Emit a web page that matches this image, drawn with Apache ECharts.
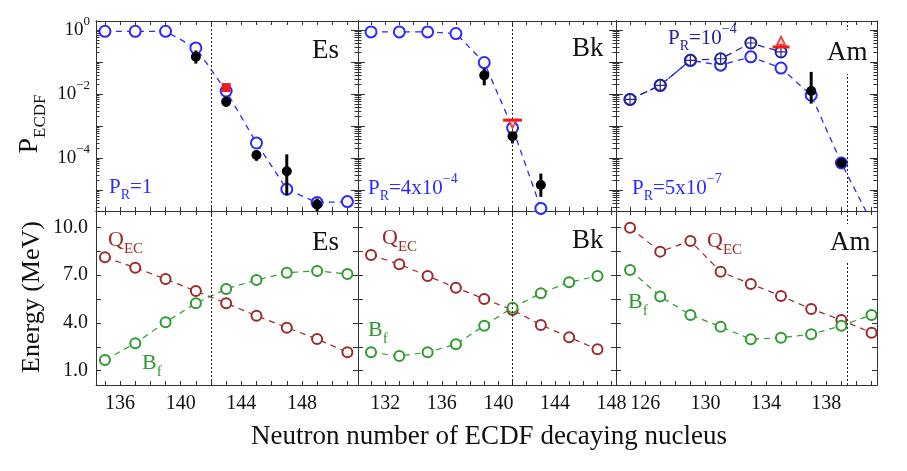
<!DOCTYPE html>
<html>
<head>
<meta charset="utf-8">
<title>ECDF probabilities</title>
<script src="https://cdn.jsdelivr.net/npm/echarts@6.0.0/dist/echarts.min.js"></script>
<style>
  html, body { margin: 0; padding: 0; background: #fff; }
  #chart { width: 907px; height: 471px; }
</style>
</head>
<body>
<div id="chart"></div>
<script>
// ---------- data ----------
// Es  (top: P_ECDF, bottom: energies in MeV)
var esN      = [135, 137, 139, 141, 143, 145, 147, 149, 151];
var esCalc   = [0.93, 0.93, 0.93, 0.28, 1.26e-2, 3.0e-4, 1.07e-5, 4.1e-6, 4.4e-6];
var esExpN   = [141, 143, 145, 147, 149];
var esExp    = [0.148, 5.8e-3, 1.26e-4, 3.9e-5, 3.6e-6];
var esExpLo  = [0.091, 4.0e-3, 8.3e-5, 6.9e-6, 2.1e-6];
var esExpHi  = [0.234, 8.3e-3, 1.58e-4, 1.32e-4, 5.5e-6];
var esOtherN = [143];
var esOther  = [1.62e-2];
var esQec    = [8.12, 7.46, 6.75, 6.0, 5.23, 4.45, 3.7, 2.99, 2.15];
var esBf     = [1.67, 2.72, 4.04, 5.23, 6.13, 6.69, 7.15, 7.26, 7.07];

// Bk
var bkN      = [131, 133, 135, 137, 139, 141, 143, 145, 147];
var bkCalcN  = [131, 133, 135, 137, 139, 141, 143];
var bkCalc   = [0.89, 0.89, 0.89, 0.79, 0.098, 8.9e-4, 2.7e-6];
var bkExpN   = [139, 141, 143];
var bkExp    = [0.039, 4.9e-4, 1.45e-5];
var bkExpLo  = [0.019, 2.9e-4, 6.2e-6];
var bkExpHi  = [0.063, 6.6e-4, 3.3e-5];
var bkLimN   = [141];
var bkLim    = [1.55e-3];
var bkLimArr = [1.2e-3];
var bkQec    = [8.26, 7.68, 6.94, 6.21, 5.5, 4.81, 3.87, 3.1, 2.34];
var bkBf     = [2.15, 1.92, 2.15, 2.66, 3.82, 4.95, 5.86, 6.55, 6.94];

// Am
var amN      = [125, 127, 129, 131, 133, 135, 137, 139, 141];
var amCalc   = [6.9e-3, 0.019, 0.115, 0.081, 0.148, 0.066, 9.3e-3, 7.1e-5, 1.0e-6];
var amCalc2N = [125, 127, 129, 131, 133, 135];
var amCalc2  = [6.9e-3, 0.019, 0.115, 0.129, 0.40, 0.21];
var amExpN   = [137, 139];
var amExp    = [0.0126, 7.1e-5];
var amExpLo  = [5.1e-3, 6.3e-5];
var amExpHi  = [0.05, 7.9e-5];
var amLimN   = [135];
var amLim    = [0.30];
var amLimArr = [0.47];
var amQec    = [9.97, 8.47, 9.14, 7.21, 6.44, 5.69, 4.87, 4.18, 3.38];
var amBf     = [7.32, 5.65, 4.5, 3.76, 2.97, 3.07, 3.28, 3.82, 4.5];

// vertical dotted lines (neutron number)
var cutN = [142, 141, 139.4];

// tick labels
var nLabels = [[136, 140, 144, 148], [132, 136, 140, 144, 148], [126, 130, 134, 138]];
var pLabels = [-4, -2, 0];          // powers of ten
var eLabels = [1.0, 4.0, 7.0, 10.0];
var eTicks  = [1.0, 2.5, 4.0, 5.5, 7.0, 8.5, 10.0];

// ---------- look & layout ----------
var FONT = '"Liberation Serif", "Times New Roman", serif';
var INK = '#333';
var BLUE = '#2b2bff', NAVY = '#24249a', RED = '#f01c1c', QCOL = '#9c2a2a', BCOL = '#2f9a2f';

var colL = [96, 358, 616], colR = [358, 616, 877];
var rowT = [21, 211], rowB = [211, 385];
var nRange = [[134.41, 151.70], [130.08, 148.31], [124.07, 141.36]];
var pRange = [-5.65, 0.29];   // log10 P
var eRange = [0.1, 11.02];

function intsIn(a, b) {
    var out = [];
    for (var v = Math.ceil(a); v <= b; v++) out.push(v);
    return out;
}
var pMajor = intsIn(pRange[0], pRange[1]);
var pMinor = [];
for (var dec = -6; dec <= 0; dec++) {
    for (var k = 2; k <= 9; k++) {
        var lv = dec + Math.log10(k);
        if (lv > pRange[0] && lv < pRange[1]) pMinor.push(lv);
    }
}

function logPts(ns, vs) { return ns.map(function (n, i) { return [n, Math.log10(vs[i])]; }); }
function linPts(ns, vs) { return ns.map(function (n, i) { return [n, vs[i]]; }); }
function errPts(ns, lo, hi) { return ns.map(function (n, i) { return [n, Math.log10(lo[i]), Math.log10(hi[i])]; }); }

var grid = [], xAxis = [], yAxis = [], series = [];
var axisLine = { show: true, onZero: false, lineStyle: { color: INK, width: 1 } };

function addX(g, c, pos, withLabels) {
    xAxis.push({
        type: 'value', gridIndex: g, position: pos,
        min: nRange[c][0], max: nRange[c][1],
        axisLine: axisLine, splitLine: { show: false },
        axisTick: { show: true, inside: true, length: 4, lineStyle: { color: INK }, customValues: intsIn(nRange[c][0], nRange[c][1]) },
        axisLabel: withLabels
            ? { show: true, customValues: nLabels[c], margin: 9, fontFamily: FONT, fontSize: 20, color: '#111' }
            : { show: false }
    });
    return xAxis.length - 1;
}

function addY(g, pos, range, ticks, len, label) {
    yAxis.push({
        type: 'value', gridIndex: g, position: pos, min: range[0], max: range[1],
        axisLine: axisLine, splitLine: { show: false },
        axisTick: { show: true, inside: true, length: len, lineStyle: { color: INK }, customValues: ticks },
        axisLabel: label || { show: false }
    });
    return yAxis.length - 1;
}

var pLabel = {
    show: true, customValues: pLabels, margin: 6,
    formatter: function (v) {
        var e = Math.round(v);
        return '{b|10}{s|' + (e === 0 ? '0' : '\u2212' + Math.abs(e)) + '}';
    },
    rich: {
        b: { fontFamily: FONT, fontSize: 19, color: '#111', lineHeight: 30 },
        s: { fontFamily: FONT, fontSize: 13, color: '#111', lineHeight: 6, verticalAlign: 'top' }
    }
};
var eLabel = {
    show: true, customValues: eLabels, margin: 8, fontFamily: FONT, fontSize: 20, color: '#111',
    formatter: function (v) { return v.toFixed(1); }
};

// axes for the 2x3 panels
var ax = [[], []];
for (var r = 0; r < 2; r++) {
    for (var c = 0; c < 3; c++) {
        var g = grid.length;
        grid.push({ left: colL[c], top: rowT[r], width: colR[c] - colL[c], height: rowB[r] - rowT[r],
                    containLabel: false, outerBoundsMode: 'none' });
        var xi = addX(g, c, 'bottom', r === 1);
        addX(g, c, 'top', false);
        var yi;
        if (r === 0) {
            yi = addY(g, 'left', pRange, pMajor, 7, c === 0 ? pLabel : null);
            addY(g, 'left', pRange, pMinor, 3.5);
            addY(g, 'right', pRange, pMajor, 7);
            addY(g, 'right', pRange, pMinor, 3.5);
        } else {
            yi = addY(g, 'left', eRange, eTicks, 5, c === 0 ? eLabel : null);
            addY(g, 'right', eRange, eTicks, 5);
        }
        ax[r].push({ x: xi, y: yi });
    }
}

// ---------- series helpers ----------
function dashed(a, data, color, size, extra) {
    var s = {
        type: 'line', xAxisIndex: a.x, yAxisIndex: a.y, data: data,
        symbol: 'emptyCircle', symbolSize: size, showAllSymbol: true, clip: true,
        lineStyle: { color: color, width: 1.3, type: [6, 5] },
        itemStyle: { color: color, borderWidth: 1.4 }, z: 3
    };
    for (var key in extra) s[key] = extra[key];
    return s;
}
function cutLine(n) {
    return {
        silent: true, symbol: ['none', 'none'], label: { show: false },
        lineStyle: { color: '#222', type: [2, 2], width: 1 },
        emphasis: { disabled: true },
        data: [{ xAxis: n }]
    };
}
function dots(a, data, color, symbol, size, extra) {
    var s = {
        type: 'scatter', xAxisIndex: a.x, yAxisIndex: a.y, data: data,
        symbol: symbol, symbolSize: size, itemStyle: { color: color, opacity: 1 }, z: 5
    };
    for (var key in extra) s[key] = extra[key];
    return s;
}
function bars(a, data, color, width) {
    return {
        type: 'custom', xAxisIndex: a.x, yAxisIndex: a.y, data: data, clip: true, z: 4,
        renderItem: function (params, api) {
            var p1 = api.coord([api.value(0), api.value(1)]);
            var p2 = api.coord([api.value(0), api.value(2)]);
            return { type: 'line', shape: { x1: p1[0], y1: p1[1], x2: p2[0], y2: p2[1] },
                     style: { stroke: color, lineWidth: width } };
        }
    };
}
var PLUS = 'path://M4.4,0H5.6V4.4H10V5.6H5.6V10H4.4V5.6H0V4.4H4.4Z';

// ---------- top row: P_ECDF ----------
var a = ax[0][0];
series.push(dashed(a, logPts(esN, esCalc), BLUE, 11, { markLine: cutLine(cutN[0]) }));
series.push(bars(a, errPts(esExpN, esExpLo, esExpHi), '#000', 3));
series.push(dots(a, logPts(esExpN, esExp), '#000', 'circle', 10));
series.push(dots(a, logPts(esOtherN, esOther), RED, 'rect', 9, { z: 6 }));

a = ax[0][1];
series.push(dashed(a, logPts(bkCalcN, bkCalc), BLUE, 11, { markLine: cutLine(cutN[1]) }));
series.push(bars(a, errPts(bkExpN, bkExpLo, bkExpHi), '#000', 3));
series.push(dots(a, logPts(bkExpN, bkExp), '#000', 'circle', 10));
series.push(dots(a, logPts(bkLimN, bkLim), RED, 'rect', [19, 3], { z: 7 }));
series.push(dots(a, logPts(bkLimN, bkLimArr), RED, 'emptyTriangle', 8,
                 { symbolRotate: 180, itemStyle: { color: RED, borderColor: RED, borderWidth: 1.5 }, z: 6 }));

a = ax[0][2];
series.push(dashed(a, logPts(amN, amCalc), BLUE, 11, { markLine: cutLine(cutN[2]) }));
series.push(dashed(a, logPts(amCalc2N, amCalc2), NAVY, 11, { z: 4, lineStyle: { color: NAVY, width: 1.3, type: [7, 5] } }));
series.push(dots(a, logPts(amCalc2N, amCalc2), NAVY, PLUS, 10, { z: 5 }));
series.push(bars(a, errPts(amExpN, amExpLo, amExpHi), '#000', 3));
series.push(dots(a, logPts(amExpN, amExp), '#000', 'circle', 10, { z: 6 }));
series.push(bars(a, errPts(amLimN, amLim, amLimArr), RED, 1.5));
series.push(dots(a, logPts(amLimN, amLim), RED, 'rect', [17, 3], { z: 7 }));
series.push(dots(a, logPts(amLimN, amLimArr), RED, 'emptyTriangle', 8,
                 { itemStyle: { color: RED, borderColor: RED, borderWidth: 1.5 }, z: 7 }));

// ---------- bottom row: Q_EC and B_f ----------
var bottomSets = [[esN, esQec, esBf], [bkN, bkQec, bkBf], [amN, amQec, amBf]];
for (var c2 = 0; c2 < 3; c2++) {
    var b = ax[1][c2];
    series.push(dashed(b, linPts(bottomSets[c2][0], bottomSets[c2][1]), QCOL, 10,
                       { markLine: cutLine(cutN[c2]), lineStyle: { color: QCOL, width: 1.2, type: [6, 5] } }));
    series.push(dashed(b, linPts(bottomSets[c2][0], bottomSets[c2][2]), BCOL, 10,
                       { lineStyle: { color: BCOL, width: 1.2, type: [6, 5] } }));
}

// ---------- texts ----------
// sub/superscripts: a tall base line lets small tokens sit at its top or bottom
function richSet(color, base, small) {
    var lh = Math.round(small + 0.8 * base);
    return {
        m: { fontFamily: FONT, fontSize: base, fill: color, color: color, lineHeight: lh },
        d: { fontFamily: FONT, fontSize: small, fill: color, color: color, lineHeight: 6, verticalAlign: 'bottom' },
        u: { fontFamily: FONT, fontSize: small, fill: color, color: color, lineHeight: 6, verticalAlign: 'top' }
    };
}
function txt(x, y, text, color, base, small, extra) {
    var st = { text: text, rich: richSet(color, base, small), fill: color,
               fontFamily: FONT, fontSize: base, align: 'left', verticalAlign: 'middle' };
    for (var key in extra) st[key] = extra[key];
    return { type: 'text', x: x, y: y, z: 100, silent: true, style: st };
}

var graphic = [
    txt(312, 51, '{m|Es}', '#111', 27, 16),
    txt(572, 49, '{m|Bk}', '#111', 27, 16),
    txt(825, 52, '{m|Am}', '#111', 27, 16, { backgroundColor: '#fff', padding: [4, 2, 2, 2] }),
    txt(312, 243, '{m|Es}', '#111', 27, 16),
    txt(572, 241, '{m|Bk}', '#111', 27, 16),
    txt(828, 243, '{m|Am}', '#111', 27, 16, { backgroundColor: '#fff', padding: [0, 2, 0, 2] }),
    txt(109, 187, '{m|P}{d|R}{m|=1}', BLUE, 21, 14),
    txt(368, 188, '{m|P}{d|R}{m|=4x10}{u|\u22124}', BLUE, 21, 14),
    txt(668, 38, '{m|P}{d|R}{m|=10}{u|\u22124}', NAVY, 21, 14),
    txt(632, 188, '{m|P}{d|R}{m|=5x10}{u|\u22127}', BLUE, 21, 14),
    txt(108, 240, '{m|Q}{d|EC}', QCOL, 22, 15),
    txt(142, 363, '{m|B}{d|f}', BCOL, 22, 15),
    txt(382, 238, '{m|Q}{d|EC}', QCOL, 22, 15),
    txt(368, 330, '{m|B}{d|f}', BCOL, 22, 15),
    txt(707, 241, '{m|Q}{d|EC}', QCOL, 22, 15),
    txt(628, 302, '{m|B}{d|f}', BCOL, 22, 15),
    // axis titles
    { type: 'text', x: 489, y: 437, z: 100, silent: true,
      style: { text: 'Neutron number of ECDF decaying nucleus', fill: '#111', fontFamily: FONT, fontSize: 27,
               align: 'center', verticalAlign: 'middle' } },
    { type: 'text', x: 32, y: 297, z: 100, silent: true, rotation: Math.PI / 2,
      style: { text: 'Energy (MeV)', fill: '#111', fontFamily: FONT, fontSize: 26,
               align: 'center', verticalAlign: 'middle' } },
    { type: 'text', x: 30, y: 124, z: 100, silent: true, rotation: Math.PI / 2,
      style: { text: '{m|P}{d|ECDF}', rich: richSet('#111', 28, 17), fill: '#111',
               align: 'center', verticalAlign: 'middle' } }
];

var myChart = echarts.init(document.getElementById('chart'));
myChart.setOption({
    animation: false,
    backgroundColor: '#fff',
    grid: grid,
    xAxis: xAxis,
    yAxis: yAxis,
    series: series,
    graphic: graphic
});
</script>
</body>
</html>
